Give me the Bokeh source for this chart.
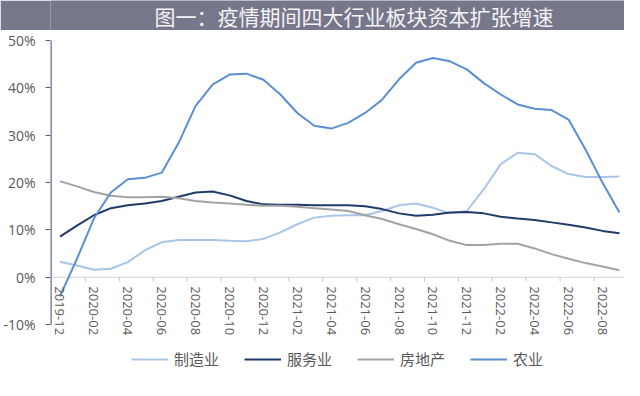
import math
from bokeh.plotting import figure
from bokeh.layouts import column
from bokeh.models import Range1d, FixedTicker, PrintfTickFormatter
from bokeh.core.properties import value
from bokeh.embed import file_html
from bokeh.resources import INLINE

title_text = "图一：疫情期间四大行业板块资本扩张增速"

months = ["2019-12", "2020-01", "2020-02", "2020-03", "2020-04", "2020-05", "2020-06",
          "2020-07", "2020-08", "2020-09", "2020-10", "2020-11", "2020-12", "2021-01",
          "2021-02", "2021-03", "2021-04", "2021-05", "2021-06", "2021-07", "2021-08",
          "2021-09", "2021-10", "2021-11", "2021-12", "2022-01", "2022-02", "2022-03",
          "2022-04", "2022-05", "2022-06", "2022-07", "2022-08", "2022-09"]

manufacturing = [3.3, 2.5, 1.6, 1.8, 3.2, 5.7, 7.4, 7.9, 7.9, 7.9, 7.7, 7.6, 8.1, 9.5, 11.2,
                 12.6, 13.0, 13.1, 13.1, 14.0, 15.2, 15.6, 14.7, 13.5, 14.0, 18.6, 23.9,
                 26.3, 26.0, 23.5, 21.8, 21.2, 21.2, 21.3]
services = [8.6, 10.9, 13.1, 14.6, 15.2, 15.6, 16.1, 17.0, 17.9, 18.1, 17.3, 16.1, 15.4, 15.3,
            15.3, 15.2, 15.2, 15.2, 15.0, 14.4, 13.5, 13.0, 13.2, 13.7, 13.8, 13.5, 12.8,
            12.4, 12.1, 11.6, 11.1, 10.5, 9.8, 9.3]
real_estate = [20.3, 19.2, 18.0, 17.2, 16.9, 16.9, 17.0, 16.7, 16.1, 15.8, 15.6, 15.3, 15.1,
               15.1, 14.9, 14.6, 14.3, 14.0, 13.1, 12.3, 11.2, 10.2, 9.1, 7.7, 6.8, 6.8, 7.1,
               7.1, 6.1, 4.9, 3.9, 3.0, 2.3, 1.5]
agriculture = [-4.0, 3.9, 12.4, 17.9, 20.7, 21.0, 22.1, 28.4, 36.2, 40.7, 42.8, 43.0, 41.7,
               38.6, 34.7, 32.0, 31.4, 32.6, 34.7, 37.5, 41.8, 45.3, 46.3, 45.6, 43.9, 41.0,
               38.6, 36.5, 35.6, 35.3, 33.3, 27.0, 20.0, 13.7]

series_names = ["制造业", "服务业", "房地产", "农业"]
series_colors = ["#a9c5e8", "#1f3a6b", "#a3a3a3", "#5a8fd2"]
y_ticks = [-10, 0, 10, 20, 30, 40, 50]

W = 624
HH = 30
# ---------- header band ----------
header = figure(width=W, height=HH, x_range=Range1d(0, W), y_range=Range1d(0, HH),
                x_axis_type=None, y_axis_type=None, output_backend="svg",
                toolbar_location=None, min_border=0, outline_line_color=None,
                background_fill_color="#77778b", border_fill_color="#77778b")
header.grid.visible = False
header.text(x=[330], y=[HH / 2], text=[title_text], text_align="center", text_baseline="middle",
            text_color="#f4f4f4", text_font=value("Noto Sans CJK SC"), text_font_size="21px")

# ---------- main chart ----------
n = len(months)
idx = list(range(n))
p = figure(width=W, height=347, x_range=Range1d(-0.56, n - 0.7), y_range=Range1d(-20.1, 50),
           x_axis_type=None, output_backend="svg", toolbar_location=None,
           min_border_left=46, min_border_right=0, min_border_top=10, min_border_bottom=5,
           outline_line_color=None, background_fill_color="white", border_fill_color="white")
p.grid.visible = False

ax = p.yaxis[0]
ax.ticker = FixedTicker(ticks=y_ticks)
ax.formatter = PrintfTickFormatter(format="%d%%")
ax.axis_line_color = None
ax.major_tick_line_color = "#4a5c7c"
ax.major_tick_out = 5
ax.major_tick_in = 0
ax.minor_tick_line_color = None
ax.major_label_standoff = 10
ax.major_label_text_color = "#595959"
ax.major_label_text_font = "Open Sans"
ax.major_label_text_font_size = "14px"

# y axis line (only from -10% to 50%)
p.segment(x0=[-0.535], y0=[y_ticks[0]], x1=[-0.535], y1=[y_ticks[-1]],
          line_color="#4a5c7c", line_width=1.5)

# x axis line at 0 with boundary ticks
p.segment(x0=[-0.5], y0=[0], x1=[n - 0.5], y1=[0], line_color="#d4d4d4", line_width=1)
bounds = [i + 1.5 for i in range(0, n - 2, 2)]
p.segment(x0=bounds, y0=[0] * len(bounds), x1=bounds, y1=[-0.9] * len(bounds),
          line_color="#c8c8c8", line_width=1)

# series
data = [manufacturing, services, real_estate, agriculture]
for name, col, vals in zip(series_names, series_colors, data):
    p.line(idx, vals, line_color=col, line_width=2, legend_label=name)

# category labels (every second month)
lab_x = idx[::2]
lab_t = months[::2]
p.text(x=lab_x, y=[-1.9] * len(lab_x), text=lab_t, angle=-math.pi / 2,
       text_align="left", text_baseline="middle", text_color="#595959",
       text_font=value("Open Sans"), text_font_size="13px")

lg = p.legend[0]
lg.orientation = "horizontal"
lg.location = (81, 3)
lg.border_line_color = None
lg.background_fill_alpha = 0
lg.padding = 0
lg.margin = 0
lg.spacing = 25
lg.glyph_width = 37
lg.glyph_height = 20
lg.label_height = 20
lg.label_standoff = 6
lg.label_text_font = "Noto Sans CJK SC"
lg.label_text_font_size = "15px"
lg.label_text_color = "#595959"

# ---------- footer line ----------
footer = figure(width=W, height=3, x_range=Range1d(0, 1), y_range=Range1d(0, 1),
                x_axis_type=None, y_axis_type=None, output_backend="svg",
                toolbar_location=None, min_border=0, outline_line_color=None,
                background_fill_color="#5470a0", border_fill_color="#5470a0")
footer.grid.visible = False

layout = column(header, p, footer, spacing=0)
open("out.html", "w").write(file_html(layout, INLINE))
